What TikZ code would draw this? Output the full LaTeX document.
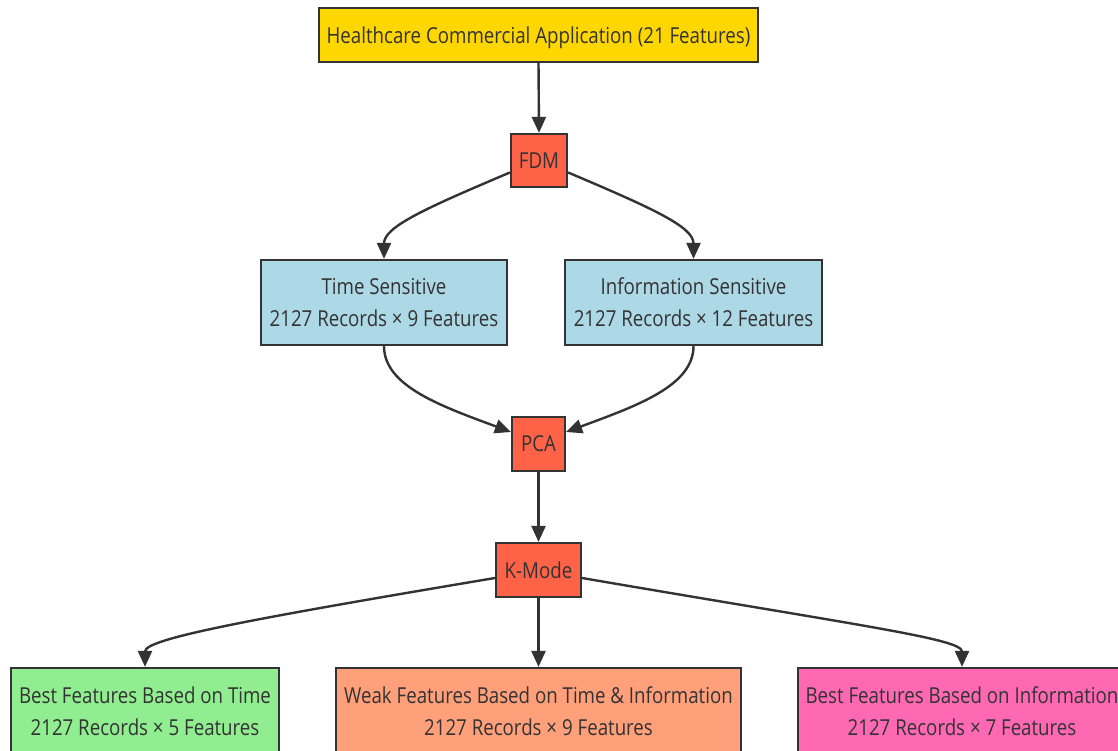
\documentclass[tikz,border=0pt]{standalone}
\usepackage{fontspec}
\setmainfont{Open Sans}[FakeStretch=0.85]
\usetikzlibrary{arrows.meta}
\definecolor{edgec}{HTML}{333333}
\definecolor{textc}{HTML}{333333}
\definecolor{gold}{HTML}{FFD700}
\definecolor{tomato}{HTML}{FF6347}
\definecolor{lblue}{HTML}{ADD8E6}
\definecolor{lgreen}{HTML}{90EE90}
\definecolor{lsalmon}{HTML}{FFA07A}
\definecolor{hpink}{HTML}{FF69B4}
\begin{document}
\begin{tikzpicture}[x=1pt,y=-1pt,
  box/.style={draw=edgec, line width=2.2pt, text=textc, inner sep=0pt,
    align=center, font=\fontsize{22}{32}\selectfont},
  link/.style={draw=edgec, line width=2.4pt,
    -{Triangle[length=16pt,width=14pt]}}]
\useasboundingbox (0,0) rectangle (1118,751);
\clip (0,0) rectangle (1118,751);

% pipeline stages
\node[box, fill=gold, minimum width=439pt, minimum height=54pt,
  text height=22pt, text depth=4.6pt] (src) at (538.5,35)
  {Healthcare Commercial Application (21 Features)};
\node[box, fill=tomato, minimum width=56pt, minimum height=53pt] (fdm) at (539,160.5) {FDM};
\node[box, fill=lblue, minimum width=246pt, minimum height=85pt] (ts) at (384,302.5)
  {Time Sensitive\\2127 Records × 9 Features};
\node[box, fill=lblue, minimum width=257pt, minimum height=85pt] (is) at (693.5,302.5)
  {Information Sensitive\\2127 Records × 12 Features};
\node[box, fill=tomato, minimum width=53pt, minimum height=54pt] (pca) at (538.5,444) {PCA};
\node[box, fill=tomato, minimum width=85pt, minimum height=54pt] (km) at (538.5,570) {K-Mode};
\node[box, fill=lgreen, minimum width=268pt, minimum height=87pt] (bt) at (145,711.5)
  {Best Features Based on Time\\2127 Records × 5 Features};
\node[box, fill=lsalmon, minimum width=405pt, minimum height=87pt] (wk) at (538.5,711.5)
  {Weak Features Based on Time \& Information\\2127 Records × 9 Features};
\node[box, fill=hpink, minimum width=328pt, minimum height=87pt] (bi) at (962,711.5)
  {Best Features Based on Information\\2127 Records × 7 Features};

% connectors
\draw[link] (src.south) -- (fdm.north);
\draw[link] ([yshift=-12pt]fdm.west) .. controls +(-85,36) and +(0,-32) .. (ts.north);
\draw[link] ([yshift=-12pt]fdm.east) .. controls +(85,36) and +(0,-32) .. (is.north);
\draw[link] (ts.south) .. controls +(0,40) and +(-70,-26) .. ([yshift=12pt]pca.west);
\draw[link] (is.south) .. controls +(0,40) and +(70,-26) .. ([yshift=12pt]pca.east);
\draw[link] (pca.south) -- (km.north);
\draw[link] ([yshift=-8pt]km.west) .. controls +(-250,42) and +(0,-28) .. (bt.north);
\draw[link] (km.south) -- (wk.north);
\draw[link] ([yshift=-8pt]km.east) .. controls +(280,48) and +(0,-28) .. (bi.north);
\end{tikzpicture}
\end{document}
